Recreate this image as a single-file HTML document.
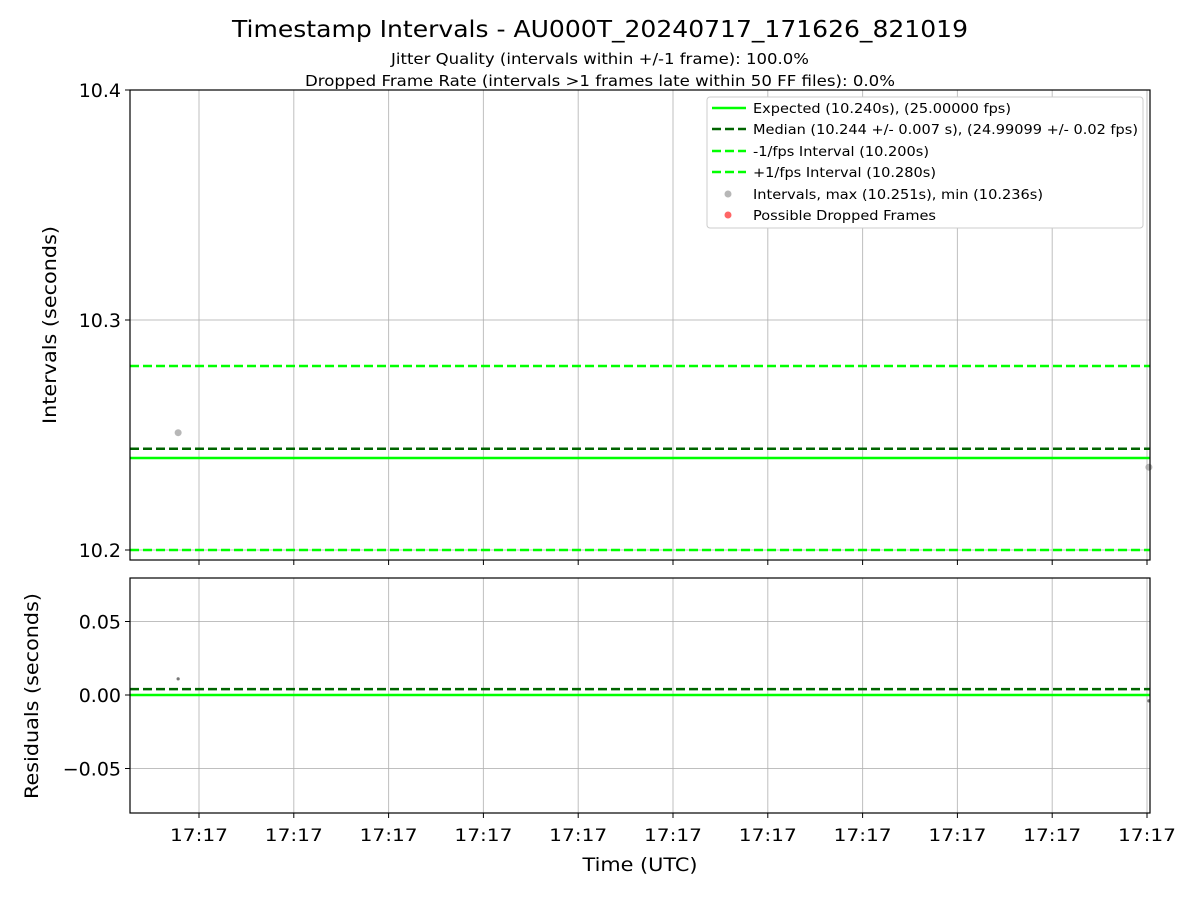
<!DOCTYPE html>
<html><head><meta charset="utf-8"><style>
body{margin:0;background:#fff;font-family:"Liberation Sans","DejaVu Sans",sans-serif}
svg text{font-family:"DejaVu Sans","Liberation Sans",sans-serif}
</style></head><body>
<svg id="chart" width="1200" height="900" xmlns="http://www.w3.org/2000/svg">
<text x="600" y="37" text-anchor="middle" font-size="23" textLength="736" lengthAdjust="spacingAndGlyphs">Timestamp Intervals - AU000T_20240717_171626_821019</text>
<text x="600" y="64" text-anchor="middle" font-size="15" textLength="418" lengthAdjust="spacingAndGlyphs">Jitter Quality (intervals within +/-1 frame): 100.0%</text>
<text x="600" y="86" text-anchor="middle" font-size="15" textLength="590" lengthAdjust="spacingAndGlyphs">Dropped Frame Rate (intervals &gt;1 frames late within 50 FF files): 0.0%</text>
<g id="topPanel"></g>
<g id="botPanel"></g>
<text x="640" y="871" text-anchor="middle" font-size="19" textLength="115" lengthAdjust="spacingAndGlyphs">Time (UTC)</text>
<text transform="translate(56,325) rotate(-90)" text-anchor="middle" font-size="19" textLength="198" lengthAdjust="spacingAndGlyphs">Intervals (seconds)</text>
<text transform="translate(38,696) rotate(-90)" text-anchor="middle" font-size="19" textLength="206" lengthAdjust="spacingAndGlyphs">Residuals (seconds)</text>
<g>
<rect x="707" y="97" width="436" height="131" fill="#fff" stroke="#ccc" rx="3"/>
<line x1="712" y1="108" x2="746" y2="108" stroke="#00ff00" stroke-width="2.5"/>
<text x="753" y="113" font-size="13" textLength="258" lengthAdjust="spacingAndGlyphs">Expected (10.240s), (25.00000 fps)</text>
<line x1="712" y1="129" x2="746" y2="129" stroke="#006400" stroke-width="2.5" stroke-dasharray="9,4"/>
<text x="753" y="134" font-size="13" textLength="385" lengthAdjust="spacingAndGlyphs">Median (10.244 +/- 0.007 s), (24.99099 +/- 0.02 fps)</text>
<line x1="712" y1="151" x2="746" y2="151" stroke="#00ff00" stroke-width="2.5" stroke-dasharray="9,4"/>
<text x="753" y="156" font-size="13" textLength="176" lengthAdjust="spacingAndGlyphs">-1/fps Interval (10.200s)</text>
<line x1="712" y1="172" x2="746" y2="172" stroke="#00ff00" stroke-width="2.5" stroke-dasharray="9,4"/>
<text x="753" y="177" font-size="13" textLength="183" lengthAdjust="spacingAndGlyphs">+1/fps Interval (10.280s)</text>
<circle cx="728" cy="194" r="3.5" fill="#999" opacity="0.7"/>
<text x="753" y="199" font-size="13" textLength="290" lengthAdjust="spacingAndGlyphs">Intervals, max (10.251s), min (10.236s)</text>
<circle cx="728" cy="215" r="3.5" fill="#ff0000" opacity="0.6"/>
<text x="753" y="220" font-size="13" textLength="183" lengthAdjust="spacingAndGlyphs">Possible Dropped Frames</text>
</g>
</svg>
<script>
const tickPositions=[0,1,2,3,4,5,6,7,8,9,10];
const tickLabels=["17:17","17:17","17:17","17:17","17:17","17:17","17:17","17:17","17:17","17:17","17:17"];
const pointTimes=[-0.22,10.02];
const intervalValues=[10.251,10.236];
const residualValues=[0.011,-0.004];
const expected=10.240, median=10.244, lowerLim=10.200, upperLim=10.280, residMedian=0.004;
const topTicks=[10.2,10.3,10.4], botTicks=[0.05,0.00,-0.05], botLabels=["0.05","0.00","\u22120.05"];
const NS="http://www.w3.org/2000/svg";
const X0=130,X1=1150;
const xs=t=>199+(t-0)*94.8;
const yT=v=>90+(10.4-v)*2300, yB=v=>695-v*1470;
function mk(p,tag,a){const e=document.createElementNS(NS,tag);for(const k in a)e.setAttribute(k,a[k]);p.appendChild(e);return e;}
const topG=document.getElementById('topPanel'),botG=document.getElementById('botPanel');
function panel(g,yt,yb,ys,ticks,labels,showX){
  tickPositions.forEach((t,i)=>{const l=mk(g,'line',{x1:xs(t),x2:xs(t),y1:yt,y2:yb,stroke:'#b0b0b0','stroke-width':1,opacity:0.8});
    
    
    mk(g,'line',{x1:xs(t),x2:xs(t),y1:yb,y2:yb+5,stroke:'#000'});
    if(showX){const tx=mk(g,'text',{x:xs(t),y:yb+28,'text-anchor':'middle','font-size':17,textLength:58,lengthAdjust:'spacingAndGlyphs'});tx.textContent=tickLabels[i];
      
      }});
  ticks.forEach((v,i)=>{const l=mk(g,'line',{x1:X0,x2:X1,y1:ys(v),y2:ys(v),stroke:'#b0b0b0','stroke-width':1,opacity:0.8});
    
    
    mk(g,'line',{x1:X0-5,x2:X0,y1:ys(v),y2:ys(v),stroke:'#000'});
    const tx=mk(g,'text',{x:X0-9,y:ys(v)+7,'text-anchor':'end','font-size':19});tx.textContent=labels[i];
    
    });
}
panel(topG,90,560,yT,topTicks,["10.2","10.3","10.4"],false);
panel(botG,578,813,yB,botTicks,botLabels,true);
function hline(g,y,color,dash,name){const l=mk(g,'line',{x1:X0,x2:X1,y1:y,y2:y,stroke:color,'stroke-width':2.5});if(dash)l.setAttribute('stroke-dasharray','9,4');
  
  }
hline(topG,yT(upperLim),'#00ff00',true,'plus-fps-line');
hline(topG,yT(lowerLim),'#00ff00',true,'minus-fps-line');
hline(topG,yT(median),'#006400',true,'median-line');
hline(topG,yT(expected),'#00ff00',false,'expected-line');
hline(botG,yB(residMedian),'#006400',true,'residual-median-line');
hline(botG,yB(0),'#00ff00',false,'residual-zero-line');
pointTimes.forEach((t,i)=>{
  const c=mk(topG,'circle',{cx:xs(t),cy:yT(intervalValues[i]),r:3.5,fill:'#999',opacity:0.7});
  
  
  const d=mk(botG,'circle',{cx:xs(t),cy:yB(residualValues[i]),r:1.6,fill:'#777'});
  
  
});
mk(topG,'rect',{x:X0,y:90,width:X1-X0,height:470,fill:'none',stroke:'#000','stroke-width':1.2});
mk(botG,'rect',{x:X0,y:578,width:X1-X0,height:235,fill:'none',stroke:'#000','stroke-width':1.2});
</script>
</body></html>
